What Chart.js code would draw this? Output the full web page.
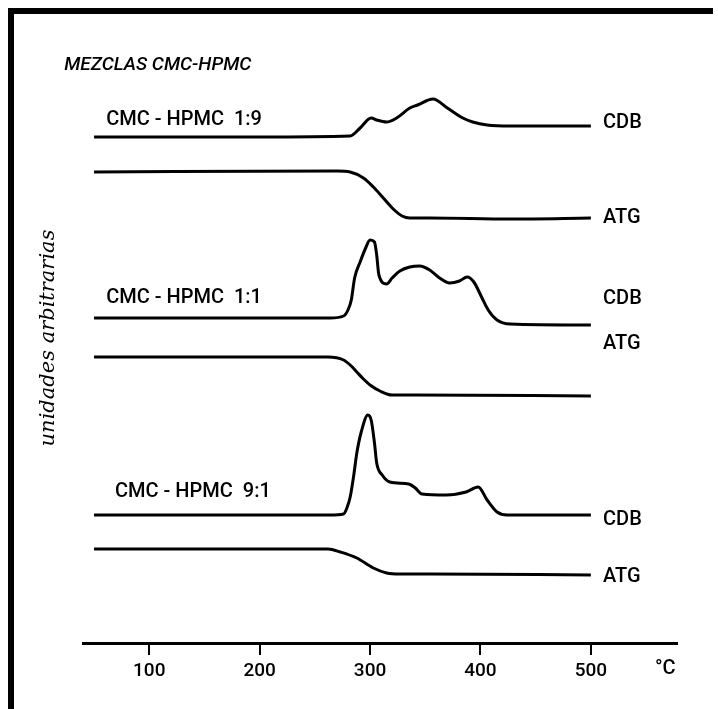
<!DOCTYPE html>
<html>
<head>
<meta charset="utf-8">
<script src="https://cdn.jsdelivr.net/npm/chart.js@4.4.1/dist/chart.umd.min.js"></script>
<style>
  body { margin: 0; background: #fff; }
  #frame { position: absolute; left: 8px; top: 8px; width: 705px; height: 701px;
           border-left: 6px solid #000; border-top: 6px solid #000; box-sizing: border-box; }
  #chart { position: absolute; left: 0; top: 0; }
</style>
</head>
<body>
<div id="frame"></div>
<canvas id="chart" width="718" height="709"></canvas>
<script>
// temperatura (°C) y señal (unidades arbitrarias) de cada curva
const cdb19T = [50, 200, 282, 291, 301, 306, 315, 324, 336, 343, 357, 370, 384, 393, 406, 427, 500];
const cdb19  = [50.6, 50.6, 50.7, 51.5, 52.5, 52.3, 52.1, 52.5, 53.5, 53.8, 54.4, 53.5, 52.5, 52.1, 51.8, 51.7, 51.7];

const atg19T = [50, 270, 282, 294, 303, 312, 321, 329, 336, 354, 427, 500];
const atg19  = [47.1, 47.2, 47.1, 46.5, 45.6, 44.5, 43.4, 42.7, 42.5, 42.5, 42.4, 42.5];

const cdb11T = [50, 264, 276, 280, 283, 286, 291, 296, 300, 304, 306, 308, 315, 320, 327, 336, 345, 354, 363, 372, 381, 388, 394, 401, 407, 415, 427, 500];
const cdb11  = [32.5, 32.5, 32.7, 33.3, 34.3, 36.5, 38.1, 39.5, 40.3, 40.1, 38.8, 36.8, 35.9, 36.5, 37.2, 37.6, 37.7, 37.3, 36.5, 36.0, 36.2, 36.6, 36.1, 34.6, 33.3, 32.3, 31.9, 31.8];

const atg11T = [50, 262, 276, 282, 288, 294, 300, 309, 320, 339, 500];
const atg11  = [28.6, 28.6, 28.3, 27.8, 27.1, 26.4, 25.8, 25.2, 24.8, 24.8, 24.7];

const cdb91T = [50, 264, 276, 279, 282, 285, 288, 292, 298, 301, 304, 306, 311, 318, 335, 341, 347, 369, 387, 398, 406, 415, 424, 500];
const cdb91  = [12.8, 12.8, 12.9, 13.5, 14.6, 16.6, 19.0, 21.1, 22.8, 22.3, 20.0, 18.0, 16.8, 16.1, 15.9, 15.5, 14.9, 14.8, 15.1, 15.6, 14.3, 13.1, 12.8, 12.8];

const atg91T = [50, 262, 273, 288, 303, 315, 327, 354, 500];
const atg91  = [9.4, 9.4, 9.1, 8.5, 7.5, 7.0, 6.9, 6.9, 6.8];

const xTicks = [100, 200, 300, 400, 500];

// textos del gráfico (posición en °C / u.a.)
const notes = [
    {text: 'MEZCLAS CMC-HPMC', t: 23, u: 57.8, font: 'italic 500 19px Roboto'},
    {text: 'CMC - HPMC  1:9', t: 61, u: 52.3},
    {text: 'CMC - HPMC  1:1', t: 61, u: 34.5},
    {text: 'CMC - HPMC  9:1', t: 69, u: 15.1},
    {text: 'CDB', t: 511, u: 52.0},
    {text: 'ATG', t: 511, u: 42.5},
    {text: 'CDB', t: 511, u: 34.4},
    {text: 'ATG', t: 511, u: 29.9},
    {text: 'CDB', t: 511, u: 12.3},
    {text: 'ATG', t: 511, u: 6.6},
    {text: '°C', t: 558, u: -2.6}
];

function toPoints(temps, values){
    return temps.map((t, i) => ({x: t, y: values[i]}));
}

const series = [[cdb19T, cdb19], [atg19T, atg19], [cdb11T, cdb11], [atg11T, atg11], [cdb91T, cdb91], [atg91T, atg91]];

const textPlugin = {
    id: 'texts',
    afterDraw(chart){
        const ctx = chart.ctx;
        const xs = chart.scales.x, ys = chart.scales.y;
        ctx.save();
        ctx.fillStyle = '#000';
        ctx.textBaseline = 'middle';
        ctx.textAlign = 'left';
        notes.forEach(n => {
            ctx.font = n.font || '500 20px Roboto';
            ctx.fillText(n.text, xs.getPixelForValue(n.t), ys.getPixelForValue(n.u));
        });
        // eje vertical
        ctx.translate(xs.getPixelForValue(8.6), ys.getPixelForValue(30.5));
        ctx.rotate(-Math.PI / 2);
        ctx.textAlign = 'center';
        ctx.font = 'italic 21px "DejaVu Serif"';
        ctx.fillText('unidades arbitrarias', 0, 0);
        ctx.restore();
    }
};

new Chart(document.getElementById('chart'), {
    type: 'line',
    data: {
        datasets: series.map(s => ({
            data: toPoints(s[0], s[1]),
            borderColor: '#000',
            borderWidth: 3,
            pointRadius: 0,
            cubicInterpolationMode: 'monotone',
            fill: false
        }))
    },
    options: {
        responsive: false,
        animation: false,
        events: [],
        layout: {padding: {left: 83, right: 41, top: 20, bottom: 0}},
        plugins: {legend: {display: false}, tooltip: {enabled: false}},
        scales: {
            x: {
                type: 'linear',
                min: 40,
                max: 578,
                afterBuildTicks: s => { s.ticks = xTicks.map(v => ({value: v})); },
                afterFit: s => { s.height = 66; },
                border: {color: '#000', width: 3},
                grid: {drawOnChartArea: false, drawTicks: true, tickLength: 12, color: '#000', lineWidth: 2},
                ticks: {color: '#000', font: {family: 'Roboto', size: 19, weight: '500'}, padding: 5, maxRotation: 0, autoSkip: false}
            },
            y: {display: false, min: 0, max: 62.3}
        }
    },
    plugins: [textPlugin]
});
</script>
</body>
</html>
